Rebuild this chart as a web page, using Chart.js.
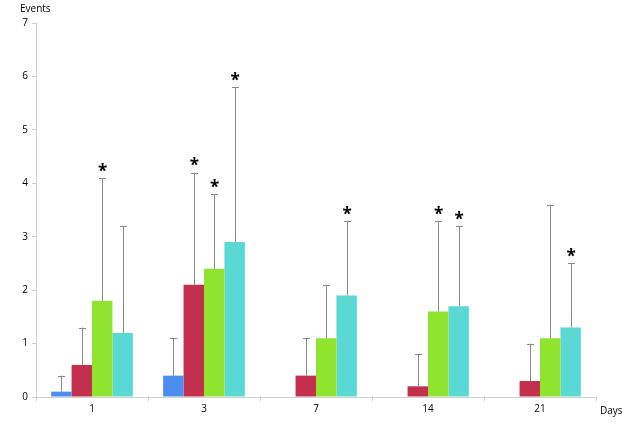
<!DOCTYPE html>
<html>
<head>
<meta charset="utf-8">
<script src="https://cdn.jsdelivr.net/npm/chart.js@4/dist/chart.umd.min.js"></script>
<style>
html,body{margin:0;padding:0;background:#fff;}
#wrap{width:622px;height:426px;position:relative;}
</style>
</head>
<body>
<div id="wrap"><canvas id="c"></canvas></div>
<script>
const categories = ['1', '3', '7', '14', '21'];
const yTicks = [0, 1, 2, 3, 4, 5, 6, 7];
const blueValues  = [0.1, 0.4, 0, 0, 0];
const redValues   = [0.6, 2.1, 0.4, 0.2, 0.3];
const greenValues = [1.8, 2.4, 1.1, 1.6, 1.1];
const cyanValues  = [1.2, 2.9, 1.9, 1.7, 1.3];
const blueErrTop  = [0.4, 1.1, null, null, null];
const redErrTop   = [1.3, 4.2, 1.1, 0.8, 1.0];
const greenErrTop = [4.1, 3.8, 2.1, 3.3, 3.6];
const cyanErrTop  = [3.2, 5.8, 3.3, 3.2, 2.5];
const blueStar  = [false, false, false, false, false];
const redStar   = [false, true, false, false, false];
const greenStar = [true, true, false, true, false];
const cyanStar  = [false, true, true, true, true];

const FONT = '"Open Sans", "Liberation Sans", sans-serif';

const errTops = [blueErrTop, redErrTop, greenErrTop, cyanErrTop];
const stars = [blueStar, redStar, greenStar, cyanStar];

const errorPlugin = {
  id: 'errbars',
  afterDatasetsDraw(chart) {
    const ctx = chart.ctx;
    const y = chart.scales.y;
    ctx.save();
    chart.data.datasets.forEach((ds, di) => {
      const meta = chart.getDatasetMeta(di);
      meta.data.forEach((bar, i) => {
        const top = errTops[di][i];
        if (top !== null && top !== undefined) {
          const y0 = y.getPixelForValue(ds.data[i]);
          const y1 = y.getPixelForValue(top);
          ctx.strokeStyle = '#8a8a8a';
          ctx.lineWidth = 1;
          ctx.beginPath();
          ctx.moveTo(Math.round(bar.x) + 0.5, y0);
          ctx.lineTo(Math.round(bar.x) + 0.5, y1);
          ctx.moveTo(Math.round(bar.x) - 3, Math.round(y1) + 0.5);
          ctx.lineTo(Math.round(bar.x) + 4, Math.round(y1) + 0.5);
          ctx.stroke();
          if (stars[di][i]) {
            ctx.fillStyle = '#000';
            ctx.font = 'bold 17px ' + FONT;
            ctx.textAlign = 'center';
            ctx.textBaseline = 'middle';
            ctx.fillText('*', bar.x + 0.5, y1 - 6);
          }
        }
      });
    });
    const ca = chart.chartArea;
    ctx.fillStyle = '#000';
    ctx.font = '10px ' + FONT;
    ctx.textAlign = 'left';
    ctx.textBaseline = 'middle';
    ctx.fillText('Events', ca.left - 16, ca.top - 14);
    ctx.fillText('Days', ca.right + 4, ca.bottom + 14);
    ctx.restore();
  }
};

new Chart(document.getElementById('c'), {
  type: 'bar',
  data: {
    labels: categories,
    datasets: [
      { label: 'A', data: blueValues, backgroundColor: '#4b8ef0' },
      { label: 'B', data: redValues, backgroundColor: '#c3304d' },
      { label: 'C', data: greenValues, backgroundColor: '#90e32e' },
      { label: 'D', data: cyanValues, backgroundColor: '#5ad9d4' }
    ]
  },
  options: {
    responsive: true,
    maintainAspectRatio: false,
    animation: false,
    layout: { padding: { top: 23, right: 26, left: 0, bottom: 0 } },
    plugins: { legend: { display: false }, tooltip: { enabled: false } },
    datasets: { bar: { categoryPercentage: 0.73, barPercentage: 1.0 } },
    scales: {
      x: {
        offset: true,
        grid: { display: true, offset: true, drawOnChartArea: false, color: '#d0d0d0', tickLength: 4 },
        border: { color: '#d0d0d0' },
        ticks: { color: '#000', font: { family: FONT, size: 10 }, padding: 2 },
        afterFit(s) { s.height = 29; }
      },
      y: {
        min: 0, max: 7,
        afterBuildTicks(s) { s.ticks = yTicks.map(v => ({ value: v })); },
        grid: { display: true, drawOnChartArea: false, color: '#d0d0d0', tickLength: 4 },
        border: { color: '#d0d0d0' },
        ticks: { color: '#000', font: { family: FONT, size: 10 }, padding: 4 },
        afterFit(s) { s.width = 36; }
      }
    }
  },
  plugins: [errorPlugin]
});
</script>
</body>
</html>
